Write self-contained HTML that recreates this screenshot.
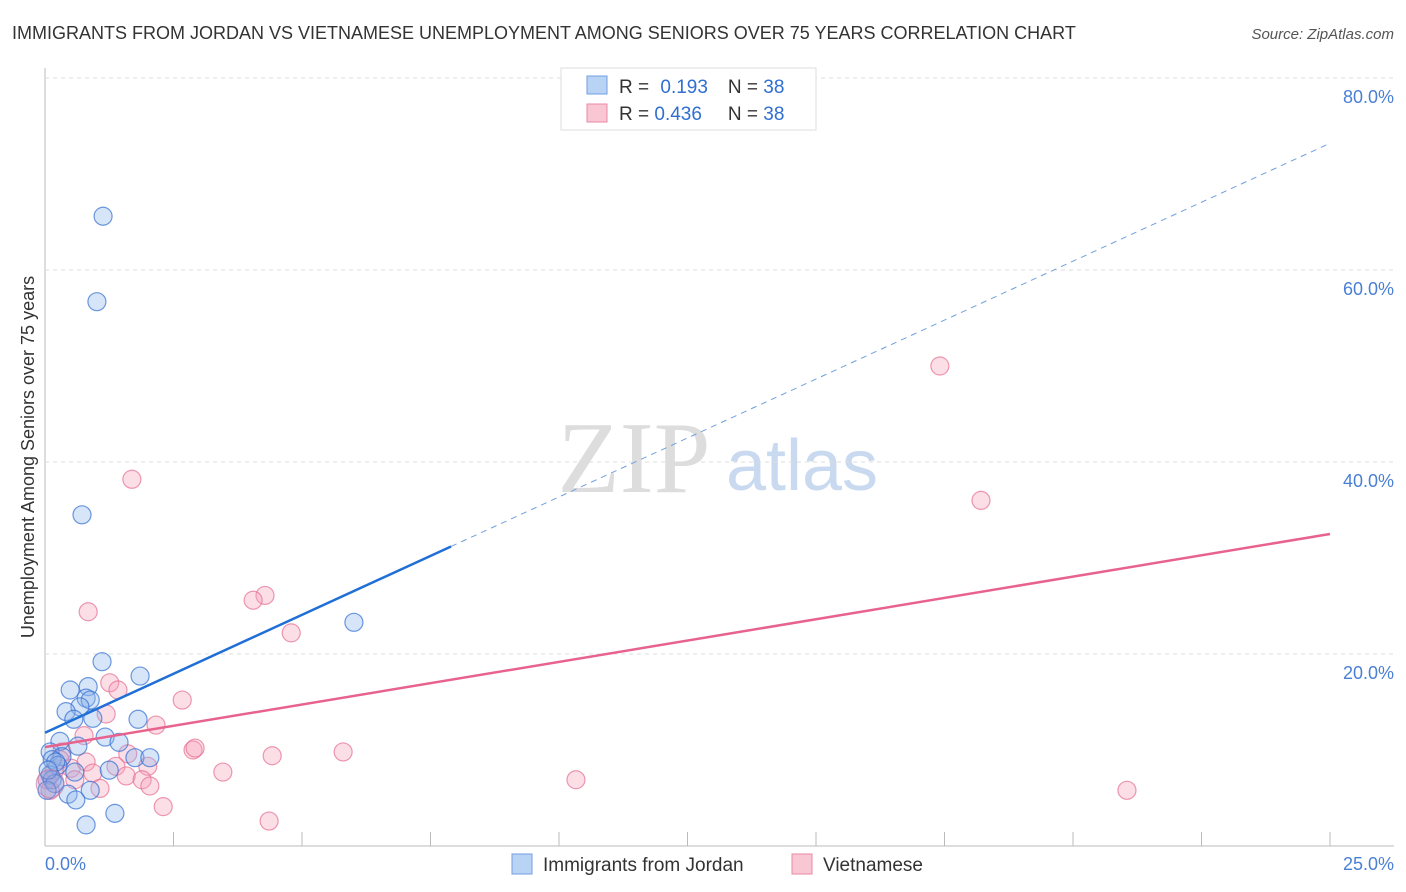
<!DOCTYPE html><html><head><meta charset="utf-8"><style>
body{margin:0;background:#fff;font-family:"Liberation Sans",sans-serif}
</style></head><body>
<svg id="c" width="1406" height="892" style="display:block">
<text x="12" y="39" font-size="18" fill="#333">IMMIGRANTS FROM JORDAN VS VIETNAMESE UNEMPLOYMENT AMONG SENIORS OVER 75 YEARS CORRELATION CHART</text>
<text x="1394" y="39" font-size="15" fill="#555" font-style="italic" text-anchor="end">Source: ZipAtlas.com</text>
<text x="634" y="492" font-size="102" fill="#ddd" font-family="Liberation Serif,serif" text-anchor="middle">ZIP</text>
<text x="802" y="490" font-size="72" fill="#c9daf0" text-anchor="middle">atlas</text>
<text transform="translate(34,457) rotate(-90)" font-size="18" fill="#333" text-anchor="middle">Unemployment Among Seniors over 75 years</text>
<g id="grid"></g><g id="marks"></g>
<g>
<rect x="561" y="68" width="255" height="62" fill="#fff" stroke="#ddd"/>
<rect x="587" y="76" width="20" height="18" fill="#b9d3f5" stroke="#6f9fe0"/>
<rect x="587" y="104" width="20" height="18" fill="#f9c6d4" stroke="#e98aa6"/>
<text x="619" y="93" font-size="19" fill="#333">R = <tspan fill="#2f6fd0" dx="6">0.193</tspan><tspan dx="20" fill="#333">N = </tspan><tspan fill="#2f6fd0">38</tspan></text>
<text x="619" y="120" font-size="19" fill="#333">R = <tspan fill="#2f6fd0">0.436</tspan><tspan dx="26" fill="#333">N = </tspan><tspan fill="#2f6fd0">38</tspan></text>
</g>
<g>
<rect x="512" y="854" width="20" height="20" fill="#b9d3f5" stroke="#6f9fe0"/>
<text x="543" y="871" font-size="19" fill="#333">Immigrants from Jordan</text>
<rect x="792" y="854" width="20" height="20" fill="#f9c6d4" stroke="#e98aa6"/>
<text x="823" y="871" font-size="19" fill="#333">Vietnamese</text>
</g>
<text x="45" y="870" font-size="18" fill="#4a7fd6">0.0%</text>
<text x="1394" y="870" font-size="18" fill="#4a7fd6" text-anchor="end">25.0%</text>
</svg>
<script>
const yTicks=[20,40,60,80];
const xTicks=[0,2.5,5,7.5,10,12.5,15,17.5,20,22.5,25];
const blueX=[1.13,1.01,0.72,6.01,1.11,1.85,0.49,0.84,0.80,0.88,0.68,0.41,0.56,0.93,1.81,1.17,1.44,0.29,0.64,0.10,0.33,0.14,1.75,2.04,0.25,1.25,0.58,0.10,0.14,0.45,0.60,0.88,1.36,0.80,0.19,0.04,0.21,0.06];
const blueY=[65.6,56.7,34.5,23.3,19.2,17.7,16.25,16.6,15.4,15.2,14.5,14.0,13.2,13.3,13.2,11.35,10.8,10.9,10.4,9.8,9.3,9.0,9.2,9.2,8.4,7.9,7.7,7.4,6.9,5.4,4.8,5.8,3.4,2.2,6.5,5.8,8.75,7.9];
const pinkX=[17.41,18.21,1.69,0.84,4.28,4.05,4.79,1.26,1.42,2.67,1.19,2.16,0.76,2.88,2.92,5.80,4.42,1.61,0.33,1.38,0.51,0.80,2.00,1.58,0.93,1.89,2.04,3.46,10.33,21.05,1.07,2.30,4.36,0.29,0.10,0.04,0.19,0.58];
const pinkY=[50.0,36.0,38.2,24.4,26.1,25.6,22.2,17.0,16.25,15.2,13.75,12.6,11.5,10.0,10.2,9.8,9.4,9.6,9.8,8.3,8.1,8.75,8.3,7.3,7.6,6.9,6.25,7.7,6.9,5.8,6.0,4.1,2.6,9.0,5.8,6.9,7.9,6.9];
const blueTrend=[11.8,73.2];
const pinkTrend=[10.3,32.5];
const X=v=>45+v/25*1285, Y=v=>846-v*9.6;
const NS="http://www.w3.org/2000/svg";
function mk(t,a,p){const e=document.createElementNS(NS,t);for(const k in a)e.setAttribute(k,a[k]);p.appendChild(e);return e;}
const g=document.getElementById('grid'),m=document.getElementById('marks');
let ax=mk('line',{x1:45,y1:68,x2:45,y2:846,stroke:'#bbb'},g);


let bx=mk('line',{x1:45,y1:846,x2:1394,y2:846,stroke:'#bbb'},g);


yTicks.forEach(t=>{const l=mk('line',{x1:45,y1:Y(t),x2:1394,y2:Y(t),stroke:'#ddd','stroke-dasharray':'4,4'},g);


const tx=mk('text',{x:1394,y:Y(t)+25,'font-size':18,fill:'#4a7fd6','text-anchor':'end'},g);tx.textContent=t.toFixed(1)+'%';

});
xTicks.slice(1).forEach(t=>{const l=mk('line',{x1:X(t),y1:832,x2:X(t),y2:846,stroke:'#bbb'},g);

});
function pts(xs,ys,f,s,n){xs.forEach((x,i)=>{const c=mk('circle',{cx:X(x),cy:Y(ys[i]),r:9,fill:f,stroke:s,'stroke-width':1.2},m);

});}
pts(pinkX,pinkY,'rgba(245,160,185,0.35)','rgba(230,110,145,0.7)','vietnamese-point');
pts(blueX,blueY,'rgba(140,180,235,0.35)','rgba(50,110,210,0.7)','jordan-point');
const big=mk('circle',{cx:X(0.1),cy:Y(6.5),r:14,fill:'rgba(160,150,210,0.35)',stroke:'rgba(200,110,160,0.6)'},m);


const bxm=7.9,bym=blueTrend[0]+(blueTrend[1]-blueTrend[0])*bxm/25;
let l1=mk('line',{x1:X(0),y1:Y(blueTrend[0]),x2:X(bxm),y2:Y(bym),stroke:'#1f6fd6','stroke-width':2.5},m);


let l2=mk('line',{x1:X(bxm),y1:Y(bym),x2:X(25),y2:Y(blueTrend[1]),stroke:'#6f9fe0','stroke-width':1,'stroke-dasharray':'6,5'},m);


let l3=mk('line',{x1:X(0),y1:Y(pinkTrend[0]),x2:X(25),y2:Y(pinkTrend[1]),stroke:'#e8628e','stroke-width':2.5},m);


</script></body></html>
